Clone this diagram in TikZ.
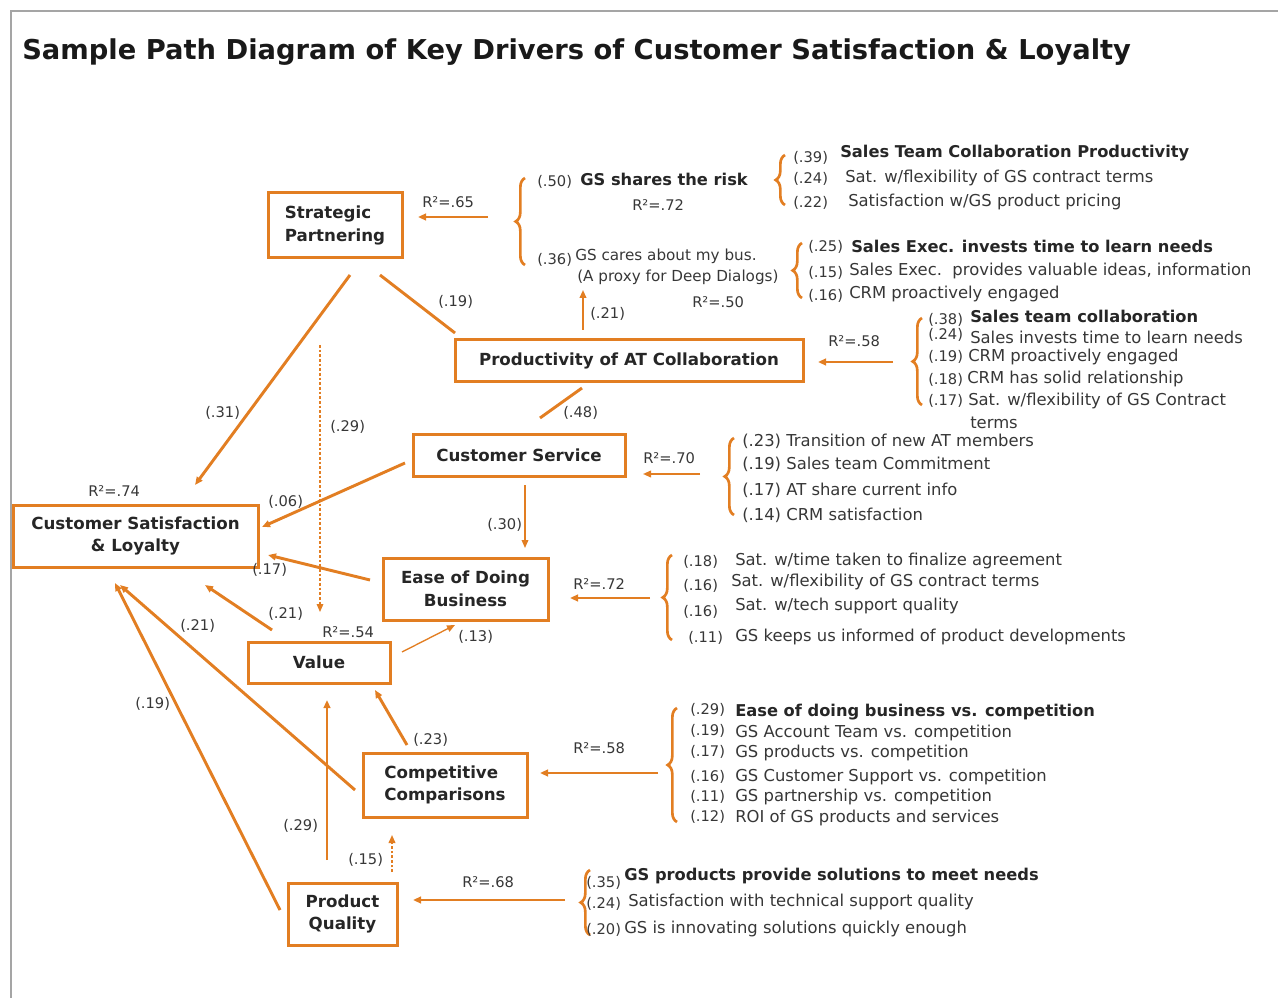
\documentclass[tikz,border=0pt]{standalone}
\usepackage{fontspec}
\setmainfont{DejaVu Sans}
\usetikzlibrary{decorations.pathreplacing,arrows.meta}
\definecolor{org}{RGB}{226,126,34}
\definecolor{txt}{RGB}{55,55,55}
\definecolor{framec}{RGB}{165,165,165}
\newcommand\bodyf{\fontsize{12.3}{15}\selectfont}
\newcommand\smallbodyf{\fontsize{11.4}{14}\selectfont}
\newcommand\bodyb{\bfseries\fontsize{12.2}{15}\selectfont}
\newcommand\numf{\fontsize{11}{14}\selectfont}
\newcommand\boxf{\bfseries\fontsize{12.5}{17}\selectfont}
\tikzset{
  box/.style={draw=org, line width=2.25pt, font=\boxf, align=center, inner sep=0pt, text=black!85},
  lbl/.style={anchor=west, inner sep=0pt, text=txt, font=\bodyf},
  blbl/.style={anchor=west, inner sep=0pt, text=black!85, font=\bodyb},
  num/.style={anchor=west, inner sep=0pt, text=txt, font=\numf},
  rsq/.style={anchor=west, inner sep=0pt, text=txt, font=\numf},
  titlestyle/.style={anchor=west, inner sep=0pt, text=black!90, font=\bfseries\fontsize{20.5}{24}\selectfont},
  conn/.style={draw=org, line width=2.2pt},
  arr/.style={-{Triangle[length=6pt,width=5pt]}},
  thinconn/.style={draw=org, line width=1pt},
  dotconn/.style={draw=org, line width=0.8pt, dash pattern=on 2pt off 1.5pt},
  rarrow/.style={draw=org, line width=1.6pt, -{Triangle[length=6pt,width=5pt]}},
  brc/.style={draw=org, line width=2pt, decorate, decoration={brace, amplitude=7pt}},
}
\begin{document}
\begin{tikzpicture}[x=0.75pt,y=-0.75pt]
\useasboundingbox (0,0) rectangle (1278,998);
\draw[framec, line width=1.5pt] (11,998) -- (11,11) -- (1278,11);
\node[titlestyle] (title) at (22,52) {Sample Path Diagram of Key Drivers of Customer Satisfaction \& Loyalty};

% ---------- boxes
\node[box, minimum width=100.5pt, minimum height=48.75pt, align=left] (sp) at (335,225.5) {Strategic\\Partnering};
\node[box, minimum width=261pt, minimum height=31.5pt] (pac) at (629,361) {Productivity of AT Collaboration};
\node[box, minimum width=159pt, minimum height=30.75pt] (cs) at (519,455.5) {Customer Service};
\node[box, minimum width=123.75pt, minimum height=46.5pt] (edb) at (465.5,589) {Ease of Doing\\Business};
\node[box, minimum width=183.75pt, minimum height=46.5pt] (csl) at (135.5,536) {Customer Satisfaction\\\& Loyalty};
\node[box, minimum width=106.5pt, minimum height=30.75pt] (val) at (319,662.5) {Value};
\node[box, minimum width=123pt, minimum height=48pt, align=left] (cc) at (445,785) {Competitive\\Comparisons};
\node[box, minimum width=81.75pt, minimum height=46.5pt] (pq) at (342.5,914) {Product\\Quality};

% ---------- connector end points
\coordinate (pac-sp) at (455,333);   \coordinate (sp-in) at (380,275);
\coordinate (sp-out) at (350,275);   \coordinate (csl-top) at (195,485);
\coordinate (dot-top) at (320,345);  \coordinate (val-top) at (320,612);
\coordinate (pac-cs) at (582,388);   \coordinate (cs-in) at (540,418);
\coordinate (cs-out) at (405,463);   \coordinate (csl-r1) at (262,527);
\coordinate (cs-down) at (525,485);  \coordinate (edb-top) at (525,548);
\coordinate (edb-out) at (370,580);  \coordinate (csl-r2) at (268,555);
\coordinate (val-out) at (272,630);  \coordinate (csl-b1) at (205,585);
\coordinate (val-r) at (402,652);    \coordinate (edb-bl) at (455,625);
\coordinate (cc-out) at (355,790);   \coordinate (csl-b2) at (120,585);
\coordinate (pq-out) at (280,910);   \coordinate (csl-b3) at (115,583);
\coordinate (pq-up) at (327,860);    \coordinate (val-bot) at (327,700);
\coordinate (cc-up) at (407,745);    \coordinate (val-br) at (375,690);
\coordinate (pq-up2) at (392,872);   \coordinate (cc-bot) at (392,835);
\coordinate (pac-up) at (583,330);   \coordinate (gc-bot) at (583,290);

\draw[conn] (pac-sp) -- (sp-in);
\draw[conn, arr] (sp-out) -- (csl-top);
\draw[dotconn, arr] (dot-top) -- (val-top);
\draw[conn] (pac-cs) -- (cs-in);
\draw[conn, arr] (cs-out) -- (csl-r1);
\draw[thinconn, arr] (cs-down) -- (edb-top);
\draw[conn, arr] (edb-out) -- (csl-r2);
\draw[conn, arr] (val-out) -- (csl-b1);
\draw[thinconn, arr] (val-r) -- (edb-bl);
\draw[conn, arr] (cc-out) -- (csl-b2);
\draw[conn, arr] (pq-out) -- (csl-b3);
\draw[conn, arr] (pq-up) -- (val-bot);
\draw[conn, arr] (cc-up) -- (val-br);
\draw[dotconn, line width=1.2pt, arr] (pq-up2) -- (cc-bot);
\draw[thinconn, line width=1.3pt, arr] (pac-up) -- (gc-bot);

% path labels
\node[num] (l31) at (205,413) {(.31)};
\node[num] (l29a) at (330,427) {(.29)};
\node[num] (l19a) at (438,302) {(.19)};
\node[num] (l21a) at (590,314) {(.21)};
\node[num] (l48) at (563,413) {(.48)};
\node[num] (l06) at (268,502) {(.06)};
\node[num] (l30) at (487,525) {(.30)};
\node[num] (l17) at (252,570) {(.17)};
\node[num] (l21b) at (268,614) {(.21)};
\node[num] (l13) at (458,637) {(.13)};
\node[num] (l21c) at (180,626) {(.21)};
\node[num] (l19b) at (135,704) {(.19)};
\node[num] (l23) at (413,740) {(.23)};
\node[num] (l29b) at (283,826) {(.29)};
\node[num] (l15) at (348,860) {(.15)};

% R squared labels
\node[rsq] (r74) at (88,491) {R²=.74};
\node[rsq] (r54) at (322,632) {R²=.54};
\node[rsq] (r65) at (422,202) {R²=.65};
\node[rsq] (r72a) at (632,205) {R²=.72};
\node[rsq] (r50) at (692,302) {R²=.50};
\node[rsq] (r58a) at (828,341) {R²=.58};
\node[rsq] (r70) at (643,458) {R²=.70};
\node[rsq] (r72b) at (573,584) {R²=.72};
\node[rsq] (r58b) at (573,748) {R²=.58};
\node[rsq] (r68) at (462,882) {R²=.68};

% R squared arrows
\coordinate (a65s) at (488,217); \coordinate (a65e) at (418,217);
\coordinate (a58s) at (893,362); \coordinate (a58e) at (818,362);
\coordinate (a70s) at (700,474); \coordinate (a70e) at (643,474);
\coordinate (a72s) at (650,598); \coordinate (a72e) at (570,598);
\coordinate (a58bs) at (658,773); \coordinate (a58be) at (540,773);
\coordinate (a68s) at (565,900); \coordinate (a68e) at (413,900);
\draw[rarrow] (a65s) -- (a65e);
\draw[rarrow] (a58s) -- (a58e);
\draw[rarrow, line width=1.2pt] (a70s) -- (a70e);
\draw[rarrow] (a72s) -- (a72e);
\draw[rarrow] (a58bs) -- (a58be);
\draw[rarrow] (a68s) -- (a68e);

% braces
\draw[brc] (525,265) -- (525,178);
\draw[brc] (785,205) -- (785,155);
\draw[brc] (802,298) -- (802,243);
\draw[brc] (922,405) -- (922,318);
\draw[brc] (734,515) -- (734,438);
\draw[brc] (672,640) -- (672,555);
\draw[brc] (677,822) -- (677,708);
\draw[brc] (590,935) -- (590,870);

% GS shares the risk / GS cares
\node[num] (n50) at (537,182) {(.50)};
\node[blbl] (gsrisk) at (580,179) {GS shares the risk};
\node[num] (n36) at (537,260) {(.36)};
\node[lbl, font=\smallbodyf] (gscare) at (575,256) {GS cares about my bus.};
\node[lbl, font=\smallbodyf] (proxy) at (577,277) {(A proxy for Deep Dialogs)};

% group 1
\node[num] (n39) at (793,158) {(.39)};
\node[blbl] (g1a) at (840,153) {Sales Team Collaboration Productivity};
\node[num] (n24a) at (793,179) {(.24)};
\node[lbl] (g1b) at (845,178) {Sat. w/flexibility of GS contract terms};
\node[num] (n22) at (793,203) {(.22)};
\node[lbl] (g1c) at (848,202) {Satisfaction w/GS product pricing};

% group 2
\node[num] (n25) at (808,247) {(.25)};
\node[blbl] (g2a) at (851,246) {Sales Exec. invests time to learn needs};
\node[num] (n15a) at (808,273) {(.15)};
\node[lbl] (g2b) at (849,271) {Sales Exec.\ \ provides valuable ideas, information};
\node[num] (n16a) at (808,296) {(.16)};
\node[lbl] (g2c) at (849,294) {CRM proactively engaged};

% group 3 (productivity)
\node[num] (n38) at (928,320) {(.38)};
\node[blbl] (g3a) at (970,316) {Sales team collaboration};
\node[num] (n24b) at (928,335) {(.24)};
\node[lbl] (g3b) at (970,337) {Sales invests time to learn needs};
\node[num] (n19a) at (928,357) {(.19)};
\node[lbl] (g3c) at (968,357) {CRM proactively engaged};
\node[num] (n18a) at (928,380) {(.18)};
\node[lbl] (g3d) at (967,379) {CRM has solid relationship};
\node[num] (n17a) at (928,401) {(.17)};
\node[lbl] (g3e) at (968,401) {Sat. w/flexibility of GS Contract};
\node[lbl] (g3f) at (970,423) {terms};

% group 4 (customer service)
\node[lbl] (g4a) at (742,441) {(.23) Transition of new AT members};
\node[lbl] (g4b) at (742,464) {(.19) Sales team Commitment};
\node[lbl] (g4c) at (742,490) {(.17) AT share current info};
\node[lbl] (g4d) at (742,515) {(.14) CRM satisfaction};

% group 5 (ease)
\node[num] (n18b) at (683,562) {(.18)};
\node[lbl] (g5a) at (735,561) {Sat. w/time taken to finalize agreement};
\node[num] (n16b) at (683,586) {(.16)};
\node[lbl] (g5b) at (731,582) {Sat. w/flexibility of GS contract terms};
\node[num] (n16c) at (683,612) {(.16)};
\node[lbl] (g5c) at (735,606) {Sat. w/tech support quality};
\node[num] (n11a) at (688,638) {(.11)};
\node[lbl] (g5d) at (735,637) {GS keeps us informed of product developments};

% group 6 (competitive)
\node[num] (n29) at (690,710) {(.29)};
\node[blbl] (g6a) at (735,712) {Ease of doing business vs. competition};
\node[num] (n19b) at (690,731) {(.19)};
\node[lbl] (g6b) at (735,733) {GS Account Team vs. competition};
\node[num] (n17b) at (690,752) {(.17)};
\node[lbl] (g6c) at (735,753) {GS products vs. competition};
\node[num] (n16d) at (690,777) {(.16)};
\node[lbl] (g6d) at (735,777) {GS Customer Support vs. competition};
\node[num] (n11b) at (690,797) {(.11)};
\node[lbl] (g6e) at (735,797) {GS partnership vs. competition};
\node[num] (n12) at (690,817) {(.12)};
\node[lbl] (g6f) at (735,818) {ROI of GS products and services};

% group 7 (product)
\node[num] (n35) at (586,883) {(.35)};
\node[blbl] (g7a) at (624,876) {GS products provide solutions to meet needs};
\node[num] (n24c) at (586,904) {(.24)};
\node[lbl] (g7b) at (628,902) {Satisfaction with technical support quality};
\node[num] (n20) at (586,930) {(.20)};
\node[lbl] (g7c) at (624,929) {GS is innovating solutions quickly enough};
\end{tikzpicture}
\end{document}
